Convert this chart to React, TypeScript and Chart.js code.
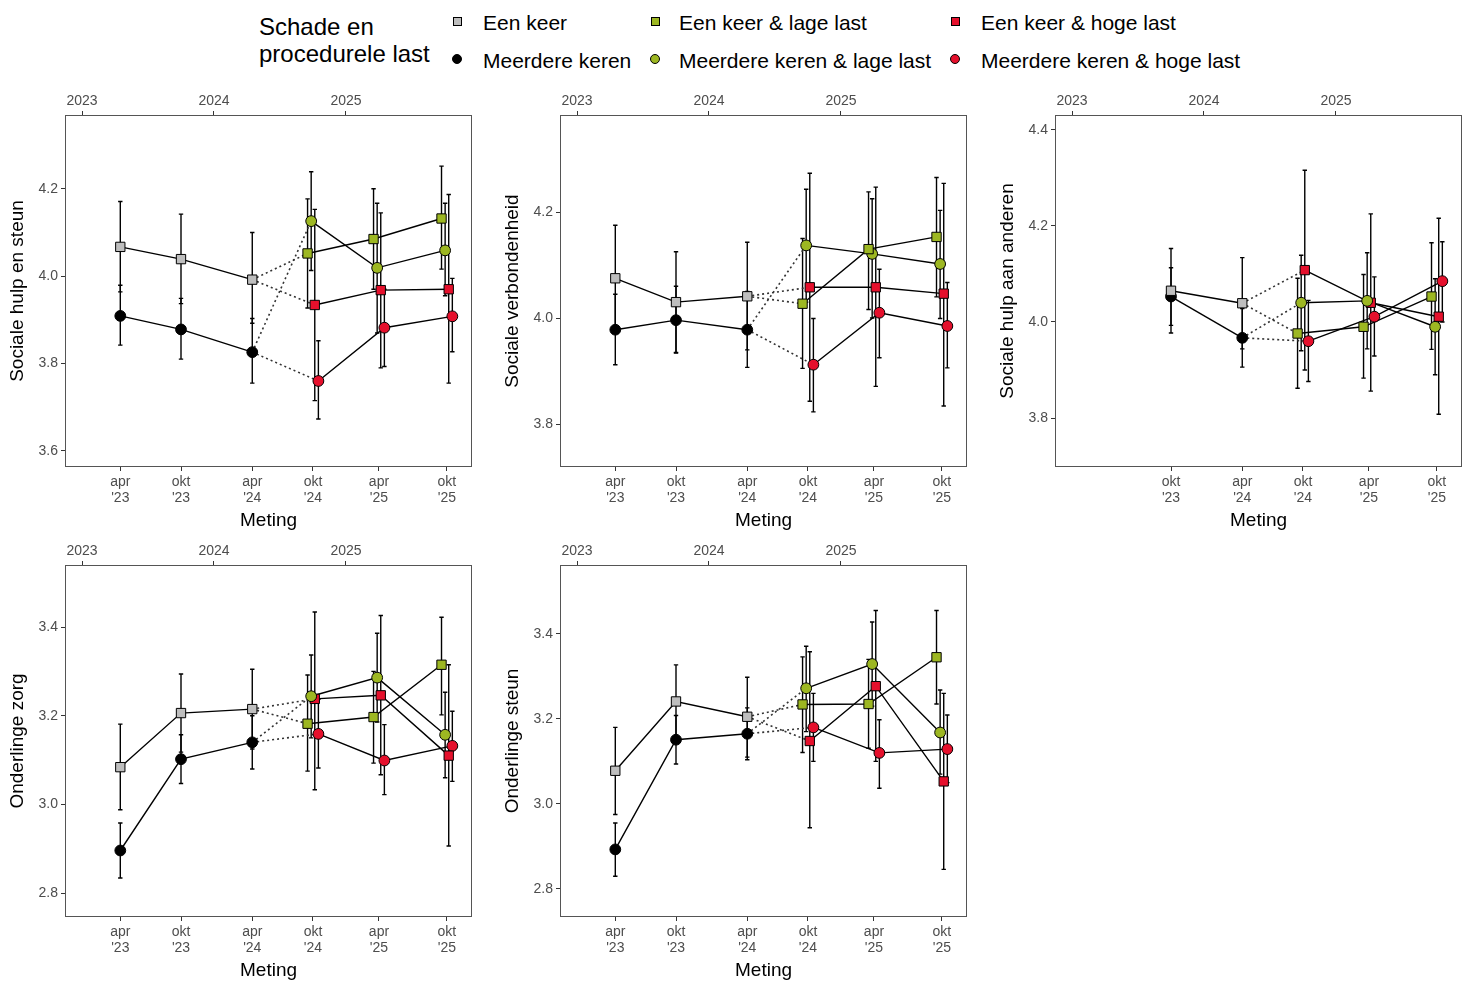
import React, { useEffect, useRef } from 'react';
import { Chart, registerables } from 'chart.js';

Chart.register(...registerables);

const FONT = "'Liberation Sans', Arial, Helvetica, sans-serif";
const GREEN = '#9DB722';
const RED = '#E5102C';
const GREY = '#BEBEBE';
const TICK_COLOR = '#4D4D4D';

// ---------- time axis ----------
const measurementDates = [2023.29, 2023.75, 2024.29, 2024.75, 2025.25, 2025.765];
const measurementLabels = [["apr", "'23"], ["okt", "'23"], ["apr", "'24"], ["okt", "'24"], ["apr", "'25"], ["okt", "'25"]];
const yearTicks = [2023, 2024, 2025];
const xRange = [2022.871, 2025.955];
const earlyIdxFull = [0, 1, 2];
const earlyIdxShort = [1, 2];
const lateIdx = [3, 4, 5];

// ---------- legend / groups ----------
const groupNames = [
  'Een keer',
  'Meerdere keren',
  'Een keer & lage last',
  'Meerdere keren & lage last',
  'Een keer & hoge last',
  'Meerdere keren & hoge last',
];
const legendTitle = ['Schade en', 'procedurele last'];

// ---------- Panel 1: Sociale hulp en steun ----------
const hulpTicks = [3.6, 3.8, 4.0, 4.2];
const hulp_eenKeer = [4.067, 4.039, 3.992];
const hulp_eenKeerLo = [3.964, 3.937, 3.892];
const hulp_eenKeerHi = [4.171, 4.142, 4.100];
const hulp_meer = [3.909, 3.878, 3.826];
const hulp_meerLo = [3.842, 3.810, 3.755];
const hulp_meerHi = [3.979, 3.949, 3.903];
const hulp_eenLaag = [4.052, 4.085, 4.132];
const hulp_eenLaagLo = [3.927, 3.970, 4.016];
const hulp_eenLaagHi = [4.177, 4.200, 4.252];
const hulp_meerLaag = [4.126, 4.019, 4.059];
const hulp_meerLaagLo = [4.013, 3.870, 3.955];
const hulp_meerLaagHi = [4.239, 4.167, 4.167];
const hulp_eenHoog = [3.934, 3.968, 3.970];
const hulp_eenHoogLo = [3.715, 3.790, 3.755];
const hulp_eenHoogHi = [4.153, 4.145, 4.187];
const hulp_meerHoog = [3.760, 3.882, 3.908];
const hulp_meerHoogLo = [3.673, 3.793, 3.827];
const hulp_meerHoogHi = [3.852, 3.970, 3.995];

// ---------- Panel 2: Sociale verbondenheid ----------
const verbTicks = [3.8, 4.0, 4.2];
const verb_eenKeer = [4.075, 4.030, 4.041];
const verb_eenKeerLo = [3.975, 3.935, 3.940];
const verb_eenKeerHi = [4.175, 4.125, 4.143];
const verb_meer = [3.978, 3.996, 3.978];
const verb_meerLo = [3.912, 3.934, 3.907];
const verb_meerHi = [4.045, 4.060, 4.050];
const verb_eenLaag = [4.027, 4.130, 4.153];
const verb_eenLaagLo = [3.905, 4.016, 4.040];
const verb_eenLaagHi = [4.150, 4.238, 4.265];
const verb_meerLaag = [4.137, 4.121, 4.102];
const verb_meerLaagLo = [4.030, 4.000, 3.999];
const verb_meerLaagHi = [4.243, 4.225, 4.203];
const verb_eenHoog = [4.058, 4.058, 4.046];
const verb_eenHoogLo = [3.843, 3.871, 3.834];
const verb_eenHoogHi = [4.273, 4.247, 4.254];
const verb_meerHoog = [3.912, 4.010, 3.985];
const verb_meerHoogLo = [3.823, 3.925, 3.906];
const verb_meerHoogHi = [3.999, 4.092, 4.067];

// ---------- Panel 3: Sociale hulp aan anderen ----------
const andTicks = [3.8, 4.0, 4.2, 4.4];
const and_eenKeer = [4.065, 4.039];
const and_eenKeerLo = [3.977, 3.944];
const and_eenKeerHi = [4.153, 4.134];
const and_meer = [4.053, 3.967];
const and_meerLo = [3.993, 3.906];
const and_meerHi = [4.113, 4.028];
const and_eenLaag = [3.976, 3.990, 4.053];
const and_eenLaagLo = [3.862, 3.883, 3.943];
const and_eenLaagHi = [4.091, 4.099, 4.165];
const and_meerLaag = [4.040, 4.044, 3.990];
const and_meerLaagLo = [3.940, 3.944, 3.890];
const and_meerLaagHi = [4.139, 4.144, 4.090];
const and_eenHoog = [4.108, 4.040, 4.011];
const and_eenHoogLo = [3.900, 3.856, 3.808];
const and_eenHoogHi = [4.316, 4.225, 4.216];
const and_meerHoog = [3.960, 4.011, 4.085];
const and_meerHoogLo = [3.876, 3.929, 4.000];
const and_meerHoogHi = [4.045, 4.094, 4.167];

// ---------- Panel 4: Onderlinge zorg ----------
const zorgTicks = [2.8, 3.0, 3.2, 3.4];
const zorg_eenKeer = [3.084, 3.206, 3.215];
const zorg_eenKeerLo = [2.988, 3.118, 3.125];
const zorg_eenKeerHi = [3.181, 3.294, 3.305];
const zorg_meer = [2.896, 3.102, 3.140];
const zorg_meerLo = [2.834, 3.047, 3.080];
const zorg_meerHi = [2.958, 3.157, 3.200];
const zorg_eenLaag = [3.182, 3.197, 3.315];
const zorg_eenLaagLo = [3.075, 3.093, 3.202];
const zorg_eenLaagHi = [3.292, 3.300, 3.422];
const zorg_meerLaag = [3.244, 3.286, 3.157];
const zorg_meerLaagLo = [3.150, 3.186, 3.060];
const zorg_meerLaagHi = [3.337, 3.386, 3.253];
const zorg_eenHoog = [3.238, 3.246, 3.110];
const zorg_eenHoogLo = [3.033, 3.067, 2.906];
const zorg_eenHoogHi = [3.434, 3.426, 3.315];
const zorg_meerHoog = [3.159, 3.099, 3.132];
const zorg_meerHoogLo = [3.082, 3.022, 3.052];
const zorg_meerHoogHi = [3.237, 3.180, 3.210];

// ---------- Panel 5: Onderlinge steun ----------
const steunTicks = [2.8, 3.0, 3.2, 3.4];
const steun_eenKeer = [3.078, 3.241, 3.205];
const steun_eenKeerLo = [2.975, 3.155, 3.110];
const steun_eenKeerHi = [3.180, 3.327, 3.298];
const steun_meer = [2.893, 3.151, 3.165];
const steun_meerLo = [2.830, 3.094, 3.104];
const steun_meerHi = [2.955, 3.208, 3.226];
const steun_eenLaag = [3.234, 3.235, 3.345];
const steun_eenLaagLo = [3.121, 3.131, 3.235];
const steun_eenLaagHi = [3.346, 3.340, 3.455];
const steun_meerLaag = [3.272, 3.329, 3.168];
const steun_meerLaagLo = [3.170, 3.230, 3.070];
const steun_meerLaagHi = [3.371, 3.428, 3.268];
const steun_eenHoog = [3.148, 3.277, 3.053];
const steun_eenHoogLo = [2.944, 3.100, 2.846];
const steun_eenHoogHi = [3.358, 3.455, 3.260];
const steun_meerHoog = [3.180, 3.120, 3.129];
const steun_meerHoogLo = [3.100, 3.037, 3.050];
const steun_meerHoogHi = [3.260, 3.198, 3.209];

// ---------- styles (not data) ----------
const groupStyles = [
  { shape: 'rect', fill: GREY, dodge: 0 },
  { shape: 'circle', fill: '#000000', dodge: 0 },
  { shape: 'rect', fill: GREEN, dodge: -0.041 },
  { shape: 'circle', fill: GREEN, dodge: -0.0136 },
  { shape: 'rect', fill: RED, dodge: 0.0136 },
  { shape: 'circle', fill: RED, dodge: 0.041 },
];

type Series = { mean: number[]; lo: number[]; hi: number[] };
type PanelCfg = {
  title: string;
  left: number;
  top: number;
  yRange: number[];
  yTicks: number[];
  earlyIdx: number[];
  series: Series[];
};

const panels: PanelCfg[] = [
  {
    title: 'Sociale hulp en steun', left: 0, top: 85, yRange: [3.563, 4.369], yTicks: hulpTicks, earlyIdx: earlyIdxFull,
    series: [
      { mean: hulp_eenKeer, lo: hulp_eenKeerLo, hi: hulp_eenKeerHi },
      { mean: hulp_meer, lo: hulp_meerLo, hi: hulp_meerHi },
      { mean: hulp_eenLaag, lo: hulp_eenLaagLo, hi: hulp_eenLaagHi },
      { mean: hulp_meerLaag, lo: hulp_meerLaagLo, hi: hulp_meerLaagHi },
      { mean: hulp_eenHoog, lo: hulp_eenHoogLo, hi: hulp_eenHoogHi },
      { mean: hulp_meerHoog, lo: hulp_meerHoogLo, hi: hulp_meerHoogHi },
    ],
  },
  {
    title: 'Sociale verbondenheid', left: 495, top: 85, yRange: [3.719, 4.383], yTicks: verbTicks, earlyIdx: earlyIdxFull,
    series: [
      { mean: verb_eenKeer, lo: verb_eenKeerLo, hi: verb_eenKeerHi },
      { mean: verb_meer, lo: verb_meerLo, hi: verb_meerHi },
      { mean: verb_eenLaag, lo: verb_eenLaagLo, hi: verb_eenLaagHi },
      { mean: verb_meerLaag, lo: verb_meerLaagLo, hi: verb_meerLaagHi },
      { mean: verb_eenHoog, lo: verb_eenHoogLo, hi: verb_eenHoogHi },
      { mean: verb_meerHoog, lo: verb_meerHoogLo, hi: verb_meerHoogHi },
    ],
  },
  {
    title: 'Sociale hulp aan anderen', left: 990, top: 85, yRange: [3.698, 4.431], yTicks: andTicks, earlyIdx: earlyIdxShort,
    series: [
      { mean: and_eenKeer, lo: and_eenKeerLo, hi: and_eenKeerHi },
      { mean: and_meer, lo: and_meerLo, hi: and_meerHi },
      { mean: and_eenLaag, lo: and_eenLaagLo, hi: and_eenLaagHi },
      { mean: and_meerLaag, lo: and_meerLaagLo, hi: and_meerLaagHi },
      { mean: and_eenHoog, lo: and_eenHoogLo, hi: and_eenHoogHi },
      { mean: and_meerHoog, lo: and_meerHoogLo, hi: and_meerHoogHi },
    ],
  },
  {
    title: 'Onderlinge zorg', left: 0, top: 535, yRange: [2.746, 3.54], yTicks: zorgTicks, earlyIdx: earlyIdxFull,
    series: [
      { mean: zorg_eenKeer, lo: zorg_eenKeerLo, hi: zorg_eenKeerHi },
      { mean: zorg_meer, lo: zorg_meerLo, hi: zorg_meerHi },
      { mean: zorg_eenLaag, lo: zorg_eenLaagLo, hi: zorg_eenLaagHi },
      { mean: zorg_meerLaag, lo: zorg_meerLaagLo, hi: zorg_meerLaagHi },
      { mean: zorg_eenHoog, lo: zorg_eenHoogLo, hi: zorg_eenHoogHi },
      { mean: zorg_meerHoog, lo: zorg_meerHoogLo, hi: zorg_meerHoogHi },
    ],
  },
  {
    title: 'Onderlinge steun', left: 495, top: 535, yRange: [2.734, 3.562], yTicks: steunTicks, earlyIdx: earlyIdxFull,
    series: [
      { mean: steun_eenKeer, lo: steun_eenKeerLo, hi: steun_eenKeerHi },
      { mean: steun_meer, lo: steun_meerLo, hi: steun_meerHi },
      { mean: steun_eenLaag, lo: steun_eenLaagLo, hi: steun_eenLaagHi },
      { mean: steun_meerLaag, lo: steun_meerLaagLo, hi: steun_meerLaagHi },
      { mean: steun_eenHoog, lo: steun_eenHoogLo, hi: steun_eenHoogHi },
      { mean: steun_meerHoog, lo: steun_meerHoogLo, hi: steun_meerHoogHi },
    ],
  },
];

const errorBarPlugin = {
  id: 'errorBars',
  beforeDatasetsDraw(chart: any) {
    const { ctx, chartArea, scales } = chart;
    ctx.save();
    ctx.beginPath();
    ctx.rect(chartArea.left, chartArea.top, chartArea.right - chartArea.left, chartArea.bottom - chartArea.top);
    ctx.clip();
    ctx.strokeStyle = '#000';
    ctx.lineWidth = 1.4;
    chart.data.datasets.forEach((ds: any) => {
      if (!ds.errLo) return;
      ds.data.forEach((p: any, i: number) => {
        const x = scales.x.getPixelForValue(p.x);
        const y1 = scales.y.getPixelForValue(ds.errLo[i]);
        const y2 = scales.y.getPixelForValue(ds.errHi[i]);
        ctx.beginPath();
        ctx.moveTo(x, y1);
        ctx.lineTo(x, y2);
        ctx.moveTo(x - 2.2, y1);
        ctx.lineTo(x + 2.2, y1);
        ctx.moveTo(x - 2.2, y2);
        ctx.lineTo(x + 2.2, y2);
        ctx.stroke();
      });
    });
    ctx.restore();
  },
};

const boxPlugin = {
  id: 'panelBox',
  afterDatasetsDraw(chart: any) {
    const { ctx, chartArea } = chart;
    ctx.save();
    ctx.strokeStyle = '#555';
    ctx.lineWidth = 1;
    ctx.strokeRect(
      Math.round(chartArea.left) + 0.5,
      Math.round(chartArea.top) + 0.5,
      Math.round(chartArea.right - chartArea.left) - 1,
      Math.round(chartArea.bottom - chartArea.top) - 1
    );
    ctx.restore();
  },
};

function Panel({ cfg }: { cfg: PanelCfg }) {
  const ref = useRef<HTMLCanvasElement | null>(null);
  useEffect(() => {
    if (!ref.current) return;
    const datasets: any[] = [];
    const pointsOf = (g: number) => {
      const idx = g < 2 ? cfg.earlyIdx : lateIdx;
      return cfg.series[g].mean.map((v, i) => ({ x: measurementDates[idx[i]] + groupStyles[g].dodge, y: v }));
    };
    const allPts = groupStyles.map((_, g) => pointsOf(g));

    // dotted connectors from last early measurement to first late measurement
    const connect: number[][] = [[0, 2], [0, 4], [1, 3], [1, 5]];
    connect.forEach(([a, b]) => {
      const pa = allPts[a][allPts[a].length - 1];
      const pb = allPts[b][0];
      datasets.push({
        data: [pa, pb], showLine: true, borderColor: '#333', borderWidth: 1.6,
        borderDash: [2, 3], pointRadius: 0, order: 5,
      });
    });
    // solid lines
    groupStyles.forEach((_, g) => {
      datasets.push({
        data: allPts[g], showLine: true, borderColor: '#000', borderWidth: 1.4,
        pointRadius: 0, order: 4,
      });
    });
    // points with error bars
    groupStyles.forEach((st, g) => {
      datasets.push({
        label: groupNames[g],
        data: allPts[g], showLine: false,
        pointStyle: st.shape, pointRadius: st.shape === 'rect' ? 6.6 : 5.4,
        backgroundColor: st.fill, borderColor: '#000', borderWidth: 1,
        errLo: cfg.series[g].lo, errHi: cfg.series[g].hi,
        order: 1,
      });
    });

    const bottomIdx = cfg.earlyIdx.concat(lateIdx);
    const bottomVals = bottomIdx.map((i) => measurementDates[i]);
    const bottomLabels = bottomIdx.map((i) => measurementLabels[i]);
    const tickFont = { family: FONT, size: 14, lineHeight: 1.15 };
    const gridCfg = { drawOnChartArea: false, drawTicks: true, tickLength: 4, tickColor: '#333', lineWidth: 1, color: '#333' };

    const chart = new Chart(ref.current, {
      type: 'scatter',
      data: { datasets },
      plugins: [errorBarPlugin, boxPlugin],
      options: {
        animation: false,
        responsive: false,
        maintainAspectRatio: false,
        layout: { padding: { left: 0, right: 8, top: 0, bottom: 0 } },
        plugins: { legend: { display: false }, tooltip: { enabled: false } },
        scales: {
          x: {
            type: 'linear', position: 'bottom', min: xRange[0], max: xRange[1],
            afterBuildTicks: (s: any) => { s.ticks = bottomVals.map((v) => ({ value: v })); },
            afterFit: (s: any) => { s.height = 68; },
            ticks: {
              autoSkip: false, maxRotation: 0, minRotation: 0, padding: 3, color: TICK_COLOR, font: tickFont,
              callback: (_v: any, i: number) => bottomLabels[i],
            },
            grid: gridCfg,
            border: { display: false },
            title: { display: true, text: 'Meting', color: '#000', font: { family: FONT, size: 19 }, padding: { top: 0, bottom: 3 } },
          },
          x2: {
            type: 'linear', position: 'top', min: xRange[0], max: xRange[1],
            afterBuildTicks: (s: any) => { s.ticks = yearTicks.map((v) => ({ value: v })); },
            afterFit: (s: any) => { s.height = 30; },
            ticks: {
              autoSkip: false, maxRotation: 0, minRotation: 0, padding: 2, color: TICK_COLOR, font: tickFont,
              callback: (v: any) => String(v),
            },
            grid: gridCfg,
            border: { display: false },
          },
          y: {
            type: 'linear', min: cfg.yRange[0], max: cfg.yRange[1],
            afterBuildTicks: (s: any) => { s.ticks = cfg.yTicks.map((v) => ({ value: v })); },
            afterFit: (s: any) => { s.width = 65; },
            ticks: { padding: 3, color: TICK_COLOR, font: tickFont, callback: (v: any) => Number(v).toFixed(1) },
            grid: gridCfg,
            border: { display: false },
            title: { display: true, text: cfg.title, color: '#000', font: { family: FONT, size: 19 }, padding: { top: 6, bottom: 0 } },
          },
        },
      } as any,
    });
    return () => chart.destroy();
  }, [cfg]);
  return (
    <canvas
      ref={ref}
      width={480}
      height={450}
      style={{ position: 'absolute', left: cfg.left, top: cfg.top, width: 480, height: 450, display: 'block' }}
    />
  );
}

function LegendMarker({ g, cx, cy }: { g: number; cx: number; cy: number }) {
  const st = groupStyles[g];
  const size = st.shape === 'rect' ? 9 : 10;
  return (
    <div
      style={{
        position: 'absolute', left: cx - size / 2, top: cy - size / 2, width: size, height: size,
        boxSizing: 'border-box', background: st.fill, border: '1px solid #000',
        borderRadius: st.shape === 'rect' ? 0 : '50%',
      }}
    />
  );
}

function Legend() {
  const cols = [
    { mx: 457, lx: 483 },
    { mx: 655, lx: 679 },
    { mx: 955, lx: 981 },
  ];
  const rows = [{ my: 21, top: 11 }, { my: 59, top: 49 }];
  const items: any[] = [];
  for (let c = 0; c < 3; c++) {
    for (let r = 0; r < 2; r++) {
      const g = c * 2 + r;
      items.push(<LegendMarker key={'m' + g} g={g} cx={cols[c].mx} cy={rows[r].my} />);
      items.push(
        <div key={'t' + g} style={{ position: 'absolute', left: cols[c].lx, top: rows[r].top, fontSize: 21, lineHeight: '24px', whiteSpace: 'nowrap', color: '#000' }}>
          {groupNames[g]}
        </div>
      );
    }
  }
  return (
    <>
      <div style={{ position: 'absolute', left: 259, top: 14, fontSize: 24, lineHeight: '26.6px', whiteSpace: 'nowrap', color: '#000' }}>
        {legendTitle[0]}<br />{legendTitle[1]}
      </div>
      {items}
    </>
  );
}

export default function App() {
  return (
    <div style={{ position: 'absolute', left: 0, top: 0, width: 1477, height: 983, overflow: 'hidden', background: '#fff', fontFamily: FONT }}>
      <Legend />
      {panels.map((p) => <Panel key={p.title} cfg={p} />)}
    </div>
  );
}
